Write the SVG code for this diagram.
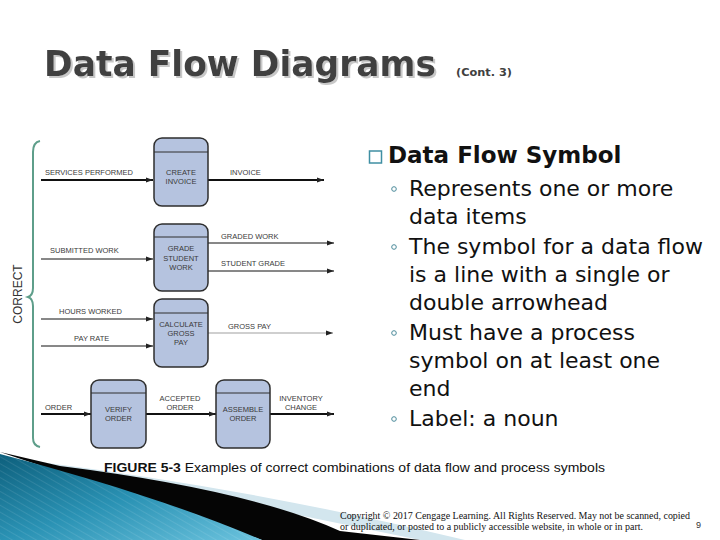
<svg xmlns="http://www.w3.org/2000/svg" width="720" height="540" viewBox="0 0 720 540">
<defs>
<style>
.lbl{font-family:"Liberation Sans",Arial,sans-serif;font-size:7.5px;fill:#3a3a3a}
.plbl{font-family:"Liberation Sans",Arial,sans-serif;font-size:7.5px;fill:#3a3a3a;text-anchor:middle}
.box{fill:#b5c3df;stroke:#2e2e2e;stroke-width:1.5}
.div{stroke:#2e2e2e;stroke-width:1}
.thick{stroke:#111;stroke-width:2.2;fill:none}
.thin{stroke:#111;stroke-width:1;fill:none}
.grey{stroke:#cfcfcf;stroke-width:1.8;fill:none}
.body{font-family:"DejaVu Sans","Noto Sans",sans-serif;font-size:22px;fill:#111}
.bul{fill:none;stroke:#4a8a9a;stroke-width:1}
</style>
<marker id="ah" markerWidth="8" markerHeight="6" refX="7" refY="3" orient="auto" markerUnits="userSpaceOnUse">
<path d="M0,0.5 L7,3 L0,5.5 Z" fill="#222"/>
</marker>
<filter id="shadow" x="-5%" y="-20%" width="110%" height="150%">
<feOffset in="SourceAlpha" dx="2" dy="2" result="o"/>
<feFlood flood-color="#c8c8c8"/>
<feComposite in2="o" operator="in" result="s"/>
<feMerge><feMergeNode in="s"/><feMergeNode in="SourceGraphic"/></feMerge>
</filter>
<linearGradient id="teal" x1="0" y1="0" x2="1" y2="1">
<stop offset="0" stop-color="#0d5f7c"/>
<stop offset="0.5" stop-color="#2a92b4"/>
<stop offset="1" stop-color="#6cc3de"/>
</linearGradient>
<pattern id="stripes" width="6" height="6" patternUnits="userSpaceOnUse" patternTransform="rotate(-60)">
<line x1="0" y1="0" x2="0" y2="6" stroke="#ffffff" stroke-opacity="0.12" stroke-width="1.5"/>
</pattern>
</defs>
<rect width="720" height="540" fill="#ffffff"/>

<!-- bottom decoration -->
<g id="decoration">
<path d="M40,462 C180,480 320,505 465,540 L420,540 Z" fill="#d3e6ee"/>
<path d="M0,452 L60,466 Q250,490 340,531 L420,540 L262,540 Z" fill="#050505"/>
<path d="M0,454 C90,478 180,505 262,540 L0,540 Z" fill="url(#teal)"/>
<path d="M0,454 C90,478 180,505 262,540 L0,540 Z" fill="url(#stripes)"/>
</g>

<!-- title -->
<g id="title">
<text x="44" y="76" filter="url(#shadow)" font-family="'DejaVu Sans','Noto Sans',sans-serif" font-weight="bold" font-size="35" fill="#404040" textLength="392" lengthAdjust="spacingAndGlyphs">Data Flow Diagrams</text>
<text x="456" y="76" font-family="'DejaVu Sans','Noto Sans',sans-serif" font-weight="bold" font-size="10.5" fill="#404040" textLength="56" lengthAdjust="spacingAndGlyphs">(Cont. 3)</text>
</g>

<!-- brace and CORRECT -->
<g id="brace">
<path d="M40,141 C35,142 33,146 33,152 L33,288 C33,293 31,296 28,297 C31,298 33,301 33,306 L33,438 C33,443 35,446 40,447" fill="none" stroke="#5e9e8a" stroke-width="2"/>
<text transform="translate(22,294) rotate(-90)" text-anchor="middle" font-family="'Liberation Sans',Arial,sans-serif" font-size="12" fill="#333">CORRECT</text>
</g>

<!-- connectors -->
<g id="connectors">
<line class="thick" x1="41" y1="180" x2="153" y2="180" marker-end="url(#ah)"/>
<line class="thick" x1="208" y1="180" x2="324" y2="180" marker-end="url(#ah)"/>
<line class="thin" x1="41" y1="259" x2="153" y2="259" marker-end="url(#ah)"/>
<line class="thin" x1="208" y1="243" x2="334" y2="243" marker-end="url(#ah)"/>
<line class="thin" x1="208" y1="271" x2="334" y2="271" marker-end="url(#ah)"/>
<line class="thin" x1="41" y1="319" x2="153" y2="319" marker-end="url(#ah)"/>
<line class="thin" x1="41" y1="346" x2="153" y2="346" marker-end="url(#ah)"/>
<line class="grey" x1="208" y1="333" x2="333" y2="333" marker-end="url(#ah)"/>
<line class="thick" x1="41" y1="414" x2="91" y2="414" marker-end="url(#ah)"/>
<line class="thick" x1="146" y1="414" x2="216" y2="414" marker-end="url(#ah)"/>
<line class="thick" x1="270" y1="414" x2="334" y2="414" marker-end="url(#ah)"/>
<text class="lbl" x="45" y="175">SERVICES PERFORMED</text>
<text class="lbl" x="230" y="175">INVOICE</text>
<text class="lbl" x="50" y="253">SUBMITTED WORK</text>
<text class="lbl" x="221" y="239">GRADED WORK</text>
<text class="lbl" x="221" y="266">STUDENT GRADE</text>
<text class="lbl" x="59" y="314">HOURS WORKED</text>
<text class="lbl" x="74" y="341">PAY RATE</text>
<text class="lbl" x="228" y="329">GROSS PAY</text>
<text class="lbl" x="45" y="410">ORDER</text>
<text class="plbl" x="180" y="401">ACCEPTED</text>
<text class="plbl" x="180" y="410">ORDER</text>
<text class="plbl" x="301" y="401">INVENTORY</text>
<text class="plbl" x="301" y="410">CHANGE</text>
</g>

<!-- process nodes -->
<g id="create-invoice">
<rect class="box" x="154" y="138" width="54" height="68" rx="8"/>
<line class="div" x1="154" y1="152" x2="208" y2="152"/>
<text class="plbl" x="181" y="175">CREATE</text>
<text class="plbl" x="181" y="184">INVOICE</text>
</g>
<g id="grade-student-work">
<rect class="box" x="154" y="224" width="54" height="67" rx="8"/>
<line class="div" x1="154" y1="237" x2="208" y2="237"/>
<text class="plbl" x="181" y="251">GRADE</text>
<text class="plbl" x="181" y="261">STUDENT</text>
<text class="plbl" x="181" y="270">WORK</text>
</g>
<g id="calculate-gross-pay">
<rect class="box" x="154" y="299" width="54" height="68" rx="8"/>
<line class="div" x1="154" y1="313" x2="208" y2="313"/>
<text class="plbl" x="181" y="327">CALCULATE</text>
<text class="plbl" x="181" y="336">GROSS</text>
<text class="plbl" x="181" y="345">PAY</text>
</g>
<g id="verify-order">
<rect class="box" x="91" y="380" width="55" height="68" rx="8"/>
<line class="div" x1="91" y1="393" x2="146" y2="393"/>
<text class="plbl" x="118.5" y="412">VERIFY</text>
<text class="plbl" x="118.5" y="421">ORDER</text>
</g>
<g id="assemble-order">
<rect class="box" x="216" y="380" width="54" height="68" rx="8"/>
<line class="div" x1="216" y1="393" x2="270" y2="393"/>
<text class="plbl" x="243" y="412">ASSEMBLE</text>
<text class="plbl" x="243" y="421">ORDER</text>
</g>

<!-- right text -->
<g id="bullets">
<rect x="369.5" y="151" width="12" height="12" fill="none" stroke="#3f8fa3" stroke-width="1.5"/>
<text x="388" y="163" font-family="'DejaVu Sans','Noto Sans',sans-serif" font-weight="bold" font-size="23" fill="#111">Data Flow Symbol</text>
<circle class="bul" cx="394" cy="189" r="2.3"/>
<circle class="bul" cx="394" cy="247" r="2.3"/>
<circle class="bul" cx="394" cy="333" r="2.3"/>
<circle class="bul" cx="394" cy="419" r="2.3"/>
<text class="body" x="409" y="196">Represents one or more</text>
<text class="body" x="409" y="224">data items</text>
<text class="body" x="409" y="254">The symbol for a data flow</text>
<text class="body" x="409" y="282">is a line with a single or</text>
<text class="body" x="409" y="310">double arrowhead</text>
<text class="body" x="409" y="340">Must have a process</text>
<text class="body" x="409" y="368">symbol on at least one</text>
<text class="body" x="409" y="396">end</text>
<text class="body" x="409" y="426">Label: a noun</text>
</g>

<!-- caption -->
<g id="caption">
<text x="104" y="472" font-family="'Liberation Sans',Arial,sans-serif" font-size="13" fill="#111" textLength="501" lengthAdjust="spacingAndGlyphs"><tspan font-weight="bold">FIGURE 5-3</tspan> Examples of correct combinations of data flow and process symbols</text>
<text x="340" y="519" font-family="'Liberation Serif','Times New Roman',serif" font-size="9.5" fill="#111" textLength="350" lengthAdjust="spacingAndGlyphs">Copyright © 2017 Cengage Learning. All Rights Reserved. May not be scanned, copied</text>
<text x="340" y="530" font-family="'Liberation Serif','Times New Roman',serif" font-size="9.5" fill="#111" textLength="303" lengthAdjust="spacingAndGlyphs">or duplicated, or posted to a publicly accessible website, in whole or in part.</text>
<text x="696" y="528" font-family="'Liberation Sans',Arial,sans-serif" font-size="9" fill="#333">9</text>
</g>
</svg>
